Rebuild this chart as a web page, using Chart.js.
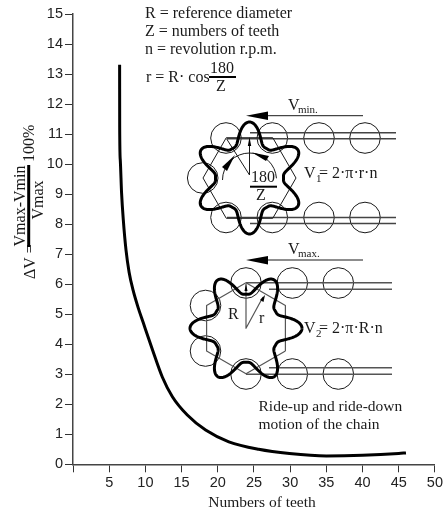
<!DOCTYPE html>
<html>
<head>
<meta charset="utf-8">
<title>Chain speed variation</title>
<script src="https://cdn.jsdelivr.net/npm/chart.js@4"></script>
<style>
  body { margin: 0; background: #fff; }
  canvas { display: block; }
</style>
</head>
<body>
<canvas id="myChart" width="445" height="510"></canvas>
<script>
const teeth = [6.44, 6.45, 6.53, 6.71, 6.95, 7.32, 7.75, 8.3, 9, 9.7, 10.93, 12.35, 13.73, 15.79, 18.32, 21.53, 25.65, 29.9, 35, 40, 45, 46];
const speedVariation = [13.31, 11.25, 10.14, 9.04, 8.14, 7.14, 6.4, 5.8, 5.22, 4.72, 3.85, 2.9, 2.25, 1.64, 1.14, 0.75, 0.5, 0.36, 0.28, 0.3, 0.36, 0.38];
const xTickLabels = ["", "5", "10", "15", "20", "25", "30", "35", "40", "45", "50"];
const yTickLabels = ["0", "1", "2", "3", "4", "5", "6", "7", "8", "9", "10", "11", "12", "13", "14", "15"];

const serif = '"Liberation Serif", serif';
const sans = '"Liberation Sans", sans-serif';
const ink = "#1a1a1a";

const text = (ctx, str, x, y, size, align) => {
  ctx.font = size + "px " + serif;
  ctx.textAlign = align || "left";
  ctx.textBaseline = "alphabetic";
  ctx.fillStyle = ink;
  ctx.fillText(str, x, y);
};

const line = (ctx, pts, width, color) => {
  ctx.beginPath();
  pts.forEach((p, i) => (i ? ctx.lineTo(p[0], p[1]) : ctx.moveTo(p[0], p[1])));
  ctx.lineWidth = width;
  ctx.strokeStyle = color || ink;
  ctx.stroke();
};

const wedge = (ctx, tip, a, b) => {
  ctx.beginPath();
  ctx.moveTo(tip[0], tip[1]);
  ctx.lineTo(a[0], a[1]);
  ctx.lineTo(b[0], b[1]);
  ctx.closePath();
  ctx.fillStyle = "#000";
  ctx.fill();
};

const roller = (ctx, x, y) => {
  ctx.beginPath();
  ctx.arc(x, y, 15.3, 0, Math.PI * 2);
  ctx.lineWidth = 1;
  ctx.strokeStyle = ink;
  ctx.stroke();
};

const hexagon = (ctx, cx, cy, r, startDeg, width, color) => {
  const pts = [];
  for (let i = 0; i <= 6; i++) {
    const a = ((startDeg + i * 60) * Math.PI) / 180;
    pts.push([cx + r * Math.cos(a), cy + r * Math.sin(a)]);
  }
  line(ctx, pts, width, color);
};

// the six tooth wavy outline of the sprocket
const sprocket = (ctx, cx, cy, startDeg) => {
  const pts = [];
  const start = (startDeg * Math.PI) / 180;
  for (let i = 0; i <= 720; i++) {
    const t = (i * Math.PI) / 360;
    const k = (1 + Math.cos(6 * (t - start))) / 2;
    const r = 34 + 22 * Math.pow(k, 2.2);
    const a = t + 0.05 * Math.sin(6 * (t - start));
    pts.push([cx + r * Math.cos(a), cy + r * Math.sin(a)]);
  }
  ctx.lineJoin = "round";
  line(ctx, pts, 3, "#000");
};

const drawHeader = (ctx) => {
  text(ctx, "R = reference diameter", 145, 18, 16);
  text(ctx, "Z = numbers of teeth", 145, 36, 16);
  text(ctx, "n = revolution r.p.m.", 145, 54, 16);
  text(ctx, "r = R\u00b7 cos", 146, 82, 16);
  text(ctx, "180", 222, 73, 16, "center");
  line(ctx, [[209, 77], [236, 77]], 2, "#000");
  text(ctx, "Z", 221, 91, 16, "center");
};

const drawMinSprocket = (ctx) => {
  const cx = 249.5, cy = 178;
  [[226, 138], [272.3, 138], [319, 138], [365, 138], [202.7, 178], [226, 217.5], [272.3, 217.5], [319, 217.5], [365, 217.5]]
    .forEach((p) => roller(ctx, p[0], p[1]));
  line(ctx, [[250, 132.7], [396, 132.7]], 1.4, "#444");
  line(ctx, [[227, 138.7], [396, 138.7]], 1.4, "#444");
  line(ctx, [[227, 217.5], [396, 217.5]], 1.4, "#444");
  line(ctx, [[250, 223.5], [396, 223.5]], 1.4, "#444");
  hexagon(ctx, cx, cy, 46.5, 0, 1, ink);
  line(ctx, [[226.5, 138.7], [249.5, 175], [249.5, 142]], 1, ink);
  wedge(ctx, [249.5, 137], [247.8, 146], [251.2, 146]);
  ctx.beginPath();
  ctx.arc(cx, cy + 2, 27, Math.PI * 1.0, Math.PI * 1.98);
  ctx.lineWidth = 1;
  ctx.strokeStyle = ink;
  ctx.stroke();
  wedge(ctx, [235, 155], [222, 167], [227, 171]);
  wedge(ctx, [252, 152.5], [269, 156], [266, 161]);
  sprocket(ctx, cx, cy, 30);
  text(ctx, "180", 263, 182, 16, "center");
  line(ctx, [[250, 186.7], [277, 186.7]], 2, "#000");
  text(ctx, "Z", 261, 200, 16, "center");
  text(ctx, "V", 304, 178, 16);
  text(ctx, "1", 316, 182, 11);
  text(ctx, "= 2\u00b7\u03c0\u00b7r\u00b7n", 319, 178, 16);
  line(ctx, [[268, 115.7], [363, 115.7]], 1, ink);
  wedge(ctx, [246, 115.7], [268, 111.5], [268, 120]);
  text(ctx, "V", 288, 110, 16);
  text(ctx, "min.", 298, 113, 11);
};

const drawMaxSprocket = (ctx) => {
  const cx = 246, cy = 328.3;
  [[246, 283], [292.3, 283], [338.3, 283], [205.5, 305.5], [205.5, 351], [246, 374], [292.3, 374], [338.3, 374]]
    .forEach((p) => roller(ctx, p[0], p[1]));
  line(ctx, [[246, 282.7], [392, 282.7]], 1.4, "#555");
  line(ctx, [[269, 289.3], [392, 289.3]], 1.4, "#555");
  line(ctx, [[269, 367.7], [392, 367.7]], 1.4, "#555");
  line(ctx, [[246, 374.3], [392, 374.3]], 1.4, "#555");
  hexagon(ctx, cx, cy, 45.5, 30, 1.2, "#555");
  line(ctx, [[246, 284], [246, 328.3], [263, 297]], 1.2, "#555");
  wedge(ctx, [246, 284], [244.5, 291], [247.5, 291]);
  wedge(ctx, [265, 295], [260, 300], [263.5, 302]);
  sprocket(ctx, cx, cy, 0);
  text(ctx, "R", 228, 319, 16);
  text(ctx, "r", 259, 323, 16);
  text(ctx, "V", 304, 333, 16);
  text(ctx, "2", 316, 337, 11);
  text(ctx, "= 2\u00b7\u03c0\u00b7R\u00b7n", 319, 333, 16);
  line(ctx, [[268, 260], [363, 260]], 1, ink);
  wedge(ctx, [246, 260], [268, 256], [268, 264.5]);
  text(ctx, "V", 288, 254, 16);
  text(ctx, "max.", 298, 257, 11);
  text(ctx, "Ride-up and ride-down", 258.5, 411, 15.5);
  text(ctx, "motion of the chain", 258.5, 428.5, 15.5);
};

// rotated formula next to the y axis
const drawYTitle = (ctx) => {
  const vertical = (str, x, y, size, align) => {
    ctx.save();
    ctx.translate(x, y);
    ctx.rotate(-Math.PI / 2);
    text(ctx, str, 0, 0, size, align);
    ctx.restore();
  };
  vertical("\u0394V =", 35, 279, 16);
  vertical("Vmax-Vmin", 25, 206, 16, "center");
  line(ctx, [[28.7, 247], [28.7, 165]], 3, "#000");
  vertical("Vmax", 43, 200, 16, "center");
  vertical("100%", 34, 162, 16);
};

const schematic = {
  id: "schematic",
  afterDraw(chart) {
    const ctx = chart.ctx;
    ctx.save();
    drawHeader(ctx);
    drawMinSprocket(ctx);
    drawMaxSprocket(ctx);
    drawYTitle(ctx);
    text(ctx, "Numbers of teeth", 262, 506.5, 15.5, "center");
    ctx.restore();
  },
};

const ctx = document.getElementById("myChart").getContext("2d");
new Chart(ctx, {
  type: "line",
  data: {
    datasets: [
      {
        data: teeth.map((t, i) => ({ x: t, y: speedVariation[i] })),
        borderColor: "#000",
        borderWidth: 3,
        pointRadius: 0,
        fill: false,
        cubicInterpolationMode: "monotone",
      },
    ],
  },
  options: {
    responsive: false,
    animation: false,
    layout: { padding: { top: 14, right: 8 } },
    plugins: { legend: { display: false }, tooltip: { enabled: false } },
    scales: {
      x: {
        type: "linear",
        min: 0,
        max: 50,
        afterFit: (scale) => { scale.height = 45.7; },
        grid: { drawOnChartArea: false, color: "#333", tickLength: 8, tickWidth: 1 },
        border: { color: "#444", width: 1.5 },
        ticks: {
          stepSize: 5,
          maxRotation: 0,
          autoSkip: false,
          padding: 2,
          color: "#222",
          font: { family: sans, size: 14.5 },
          callback: (v) => xTickLabels[v / 5],
        },
      },
      y: {
        type: "linear",
        min: 0,
        max: 15,
        afterFit: (scale) => { scale.width = 73; },
        grid: { drawOnChartArea: false, color: "#333", tickLength: 8, tickWidth: 1 },
        border: { color: "#444", width: 1.5 },
        ticks: {
          stepSize: 1,
          autoSkip: false,
          padding: 2,
          color: "#222",
          font: { family: sans, size: 14.5 },
          callback: (v) => yTickLabels[v],
        },
      },
    },
  },
  plugins: [schematic],
});
</script>
</body>
</html>
